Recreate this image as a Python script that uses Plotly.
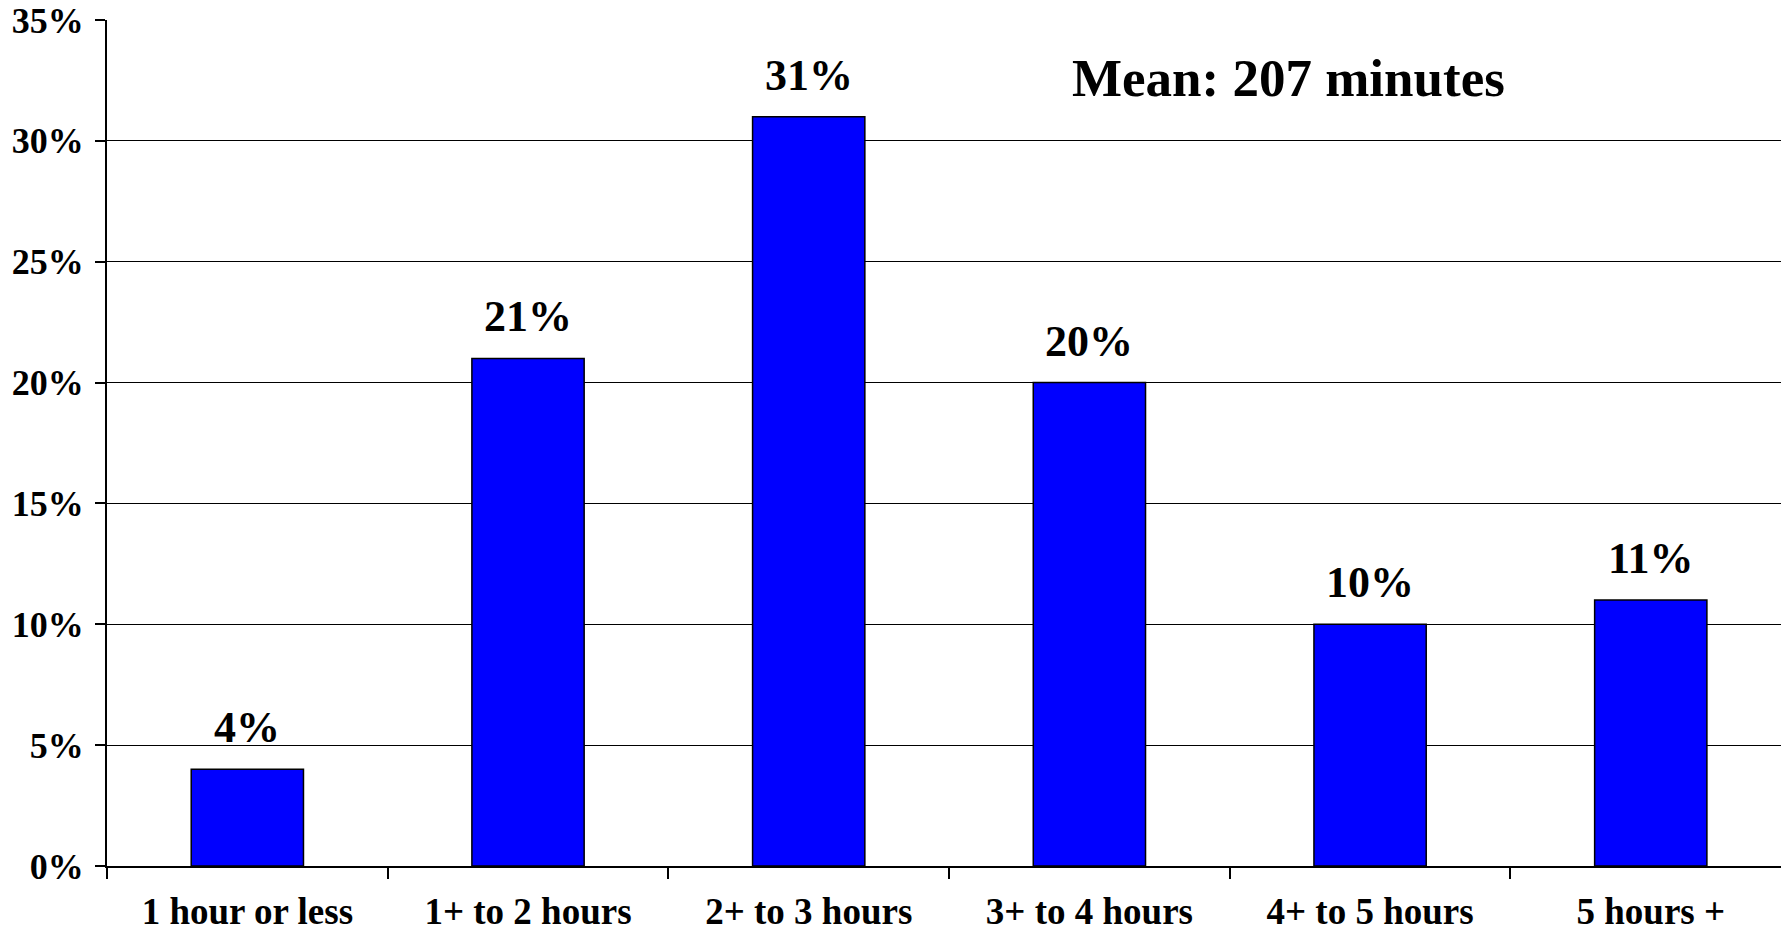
import plotly.graph_objects as go

# Share of respondents by time spent
categories = ["1 hour or less", "1+ to 2 hours", "2+ to 3 hours",
              "3+ to 4 hours", "4+ to 5 hours", "5 hours +"]
shares = [4, 21, 31, 20, 10, 11]
value_labels = ["4%", "21%", "31%", "20%", "10%", "11%"]
y_ticks = [0, 5, 10, 15, 20, 25, 30, 35]
y_tick_labels = ["0%", "5%", "10%", "15%", "20%", "25%", "30%", "35%"]
mean_note = "Mean: 207 minutes"

FONT = "Liberation Serif, Times New Roman, serif"

fig = go.Figure()
fig.add_trace(go.Bar(
    x=categories,
    y=shares,
    width=0.4,
    marker=dict(color="#0000FF", line=dict(color="black", width=1.5)),
    hoverinfo="skip",
))

for i, (v, lab) in enumerate(zip(shares, value_labels)):
    fig.add_annotation(
        x=i, y=v, text=lab, showarrow=False, xref="x", yref="y",
        yanchor="bottom", yshift=15,
        font=dict(family=FONT, size=44, color="black", weight="bold"),
    )

fig.add_annotation(
    x=2.93, y=32.6, text=mean_note, showarrow=False, xref="x", yref="y",
    xanchor="left", yanchor="middle",
    font=dict(family=FONT, size=53, color="black", weight="bold"),
)

fig.update_layout(
    width=1781, height=934,
    margin=dict(l=107, r=0, t=20, b=68),
    paper_bgcolor="white", plot_bgcolor="white",
    showlegend=False,
    font=dict(family=FONT, color="black"),
)

fig.update_xaxes(
    type="category",
    range=[-0.5, 5.464],
    tickson="boundaries",
    ticks="outside", ticklen=11, tickwidth=1.5, tickcolor="black",
    showgrid=False, zeroline=False,
    showline=True, linecolor="black", linewidth=2,
    tickfont=dict(family=FONT, size=37, color="black", weight="bold"),
    ticklabelstandoff=12,
    automargin=False,
)

fig.update_yaxes(
    range=[0, 35],
    tickmode="array", tickvals=y_ticks, ticktext=y_tick_labels,
    ticks="outside", ticklen=10, tickwidth=1.5, tickcolor="black",
    showgrid=True, gridcolor="black", gridwidth=1.3,
    zeroline=False,
    showline=True, linecolor="black", linewidth=2,
    tickfont=dict(family=FONT, size=36, color="black", weight="bold"),
    ticklabelstandoff=4,
    automargin=False,
)

fig.write_html("out.html")
